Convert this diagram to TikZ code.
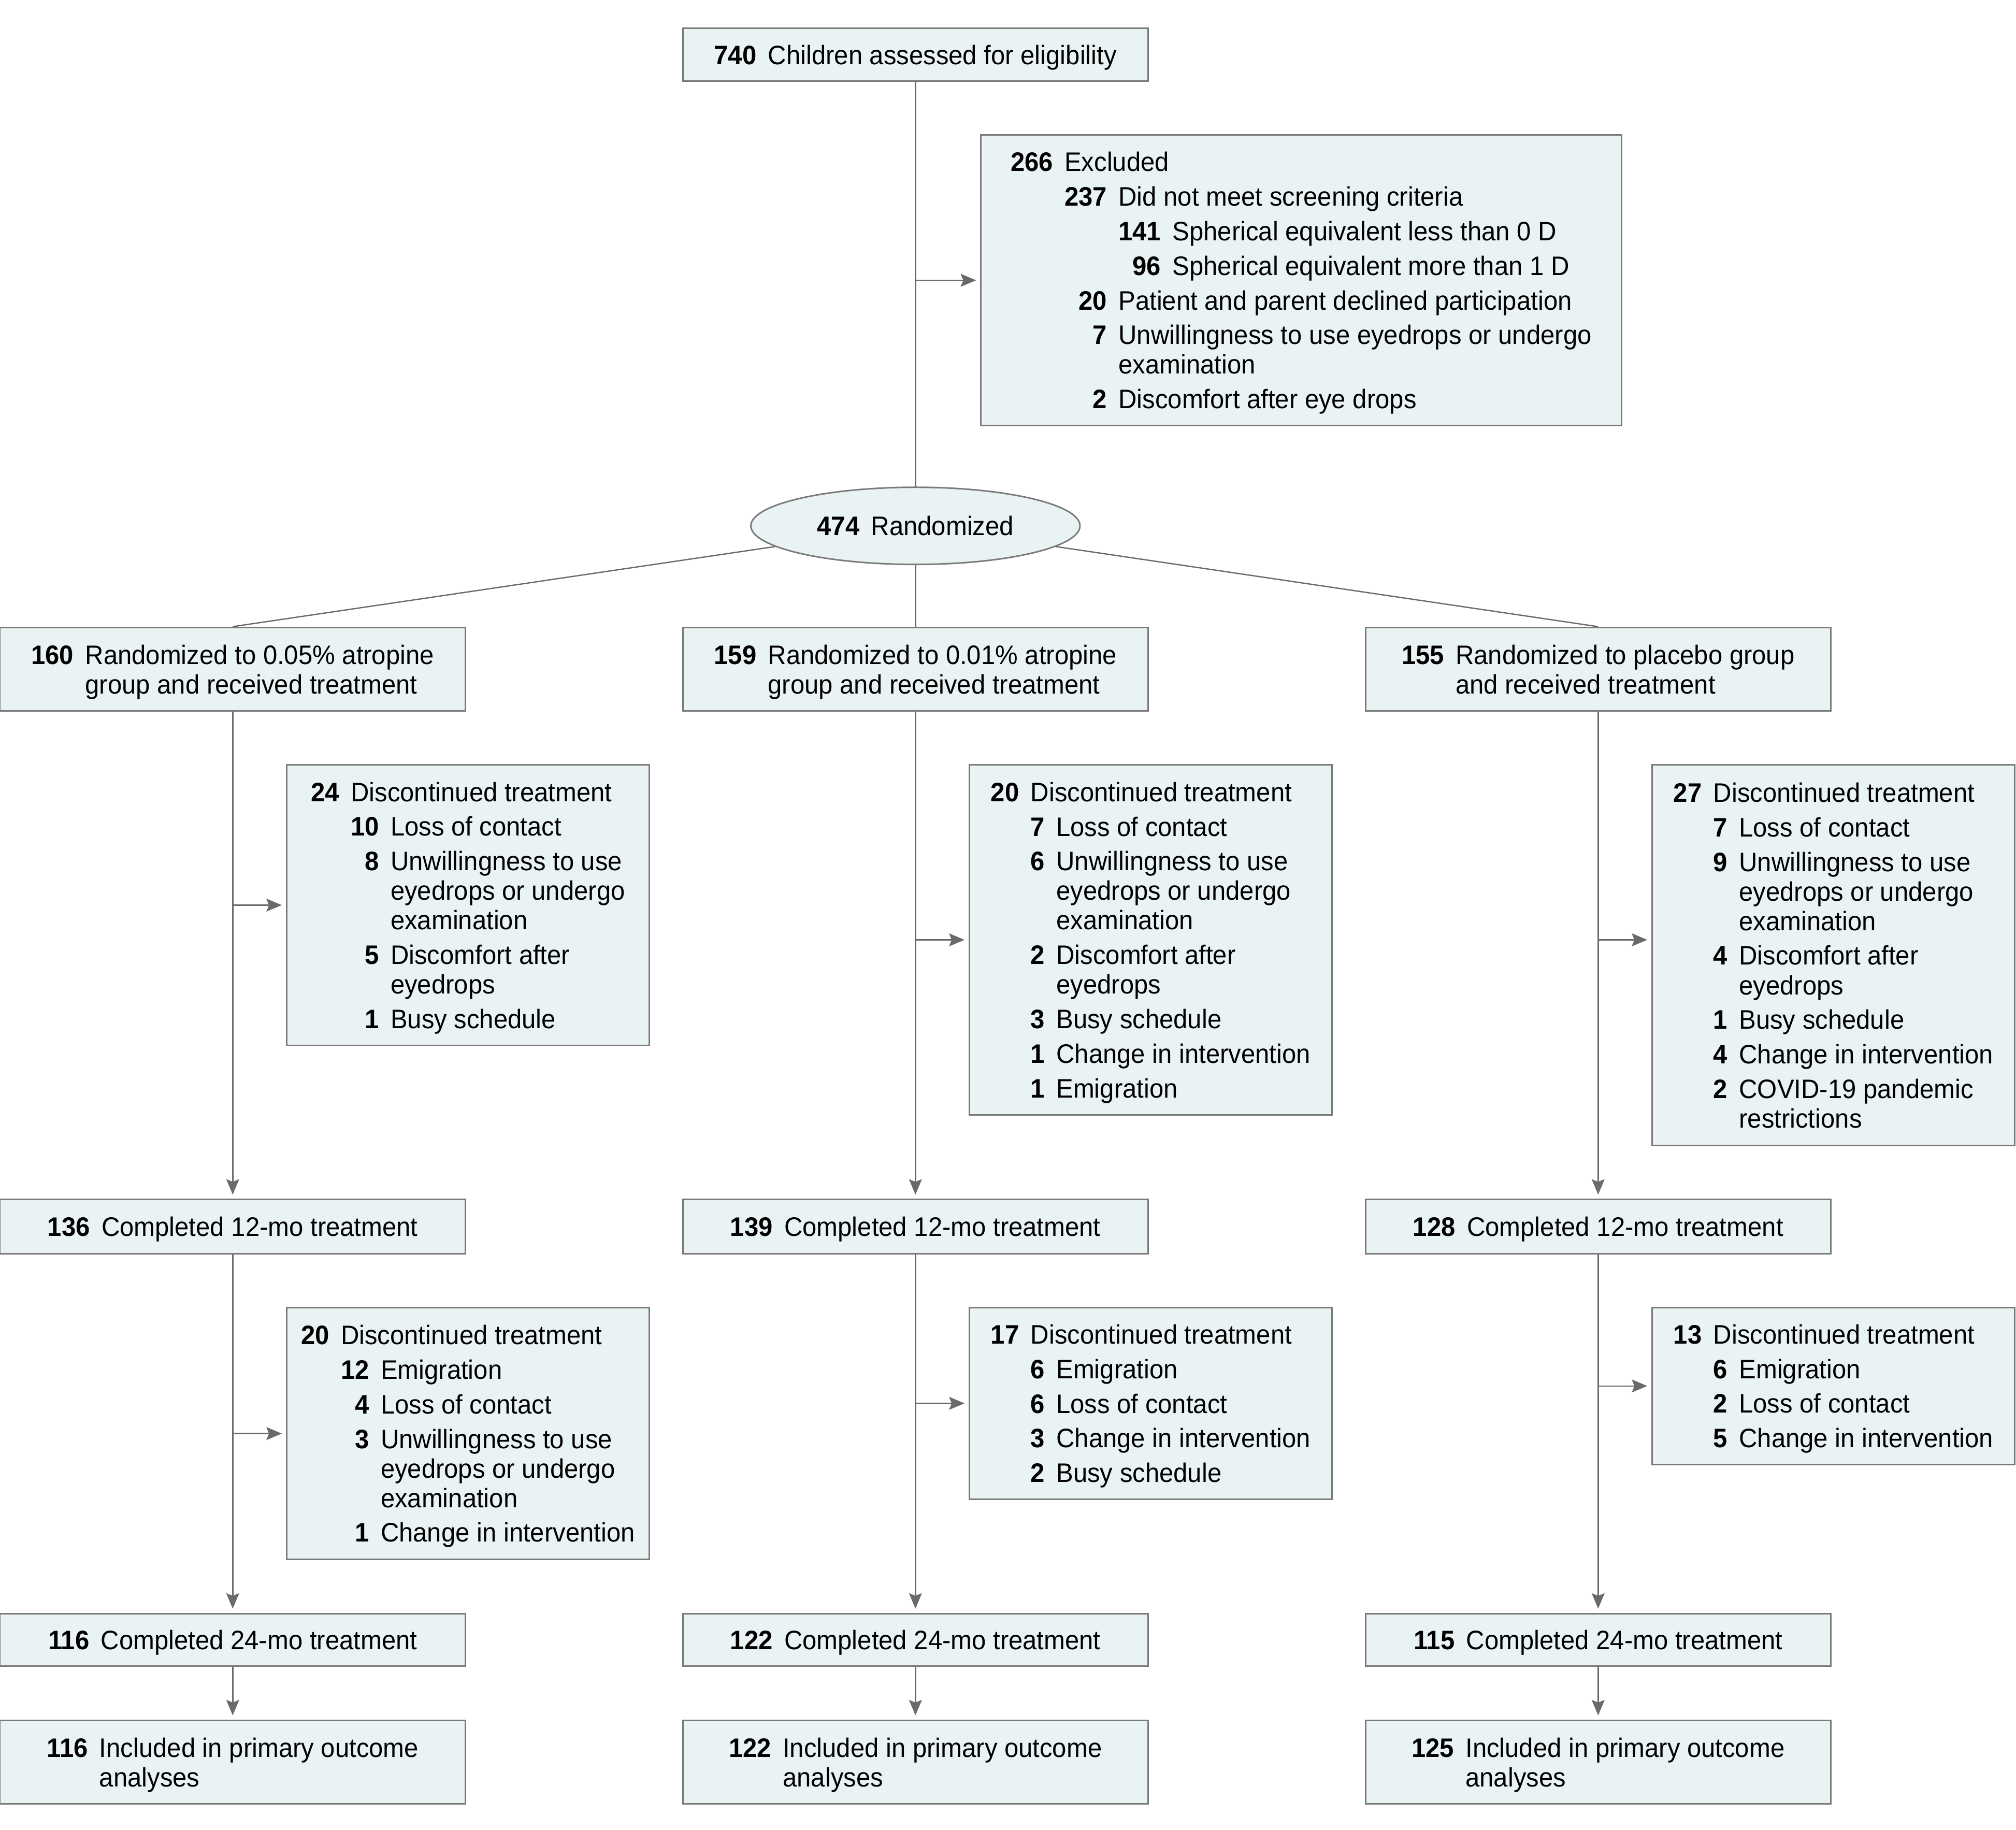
\documentclass[tikz,border=0pt]{standalone}
\usepackage{fontspec}
\setmainfont{Liberation Sans}[FakeStretch=0.95]
\usetikzlibrary{shapes.geometric,arrows.meta}
\definecolor{boxfill}{HTML}{E9F3F4}
\definecolor{boxline}{HTML}{7A7A7A}
\definecolor{linegray}{HTML}{6A6A6A}
\newcommand{\lst}[1]{\begin{tabular}[t]{@{}r@{\hspace{4.5pt}}l@{}}#1\end{tabular}}
\newcommand{\nbr}[1]{\rule{0pt}{10pt}\textbf{#1}}
\newcommand{\fst}[1]{\rule{0pt}{11pt}\textbf{#1}}
\begin{document}
\begin{tikzpicture}[x=0.5pt, y=-0.5pt,
  box/.style={draw=boxline, fill=boxfill, line width=0.6pt, inner sep=0pt, align=left,
    font=\fontsize{10.4}{11.5}\selectfont},
  wide/.style={box, minimum width=181pt, minimum height=#1},
  side/.style={box, minimum width=141pt, minimum height=#1},
  link/.style={draw=linegray, line width=0.5pt},
  arr/.style={link, -{Stealth[length=6pt,width=5pt,inset=1pt]}, shorten >=1.6pt}]
  \useasboundingbox (0,0) rectangle (1568,1423);

  \node[wide=20.5pt] (start) at (712,42.5) {\lst{\fst{740} & Children assessed for eligibility}};
  \node[box, minimum width=249pt, minimum height=113pt] (excl) at (1012,218) {\lst{\fst{266} & Excluded\\
    & \lst{\nbr{237} & Did not meet screening criteria\\
      & \lst{\nbr{141} & Spherical equivalent less than 0 D\\
        \nbr{96} & Spherical equivalent more than 1 D}\\
      \nbr{20} & Patient and parent declined participation\\
      \nbr{7} & Unwillingness to use eyedrops or undergo\\
      & examination\\
      \nbr{2} & Discomfort after eye drops}}};
  \node[box, ellipse, minimum width=128pt, minimum height=30pt] (rand) at (712,409) {\textbf{474}\hspace{4.5pt}Randomized};

  \node[wide=32.5pt] (g1) at (181,520.5) {\lst{\fst{160} & Randomized to 0.05\% atropine\\ & group and received treatment}};
  \node[wide=32.5pt] (g2) at (712,520.5) {\lst{\fst{159} & Randomized to 0.01\% atropine\\ & group and received treatment}};
  \node[wide=32.5pt] (g3) at (1243,520.5) {\lst{\fst{155} & Randomized to placebo group\\ & and received treatment}};

  \node[side=109pt] (d1a) at (364,704) {\lst{\fst{24} & Discontinued treatment\\
    & \lst{\nbr{10} & Loss of contact\\
      \nbr{8} & Unwillingness to use\\ & eyedrops or undergo\\ & examination\\
      \nbr{5} & Discomfort after\\ & eyedrops\\
      \nbr{1} & Busy schedule}}};
  \node[side=136pt] (d2a) at (895,731) {\lst{\fst{20} & Discontinued treatment\\
    & \lst{\nbr{7} & Loss of contact\\
      \nbr{6} & Unwillingness to use\\ & eyedrops or undergo\\ & examination\\
      \nbr{2} & Discomfort after\\ & eyedrops\\
      \nbr{3} & Busy schedule\\
      \nbr{1} & Change in intervention\\
      \nbr{1} & Emigration}}};
  \node[side=148pt] (d3a) at (1426,743) {\lst{\fst{27} & Discontinued treatment\\
    & \lst{\nbr{7} & Loss of contact\\
      \nbr{9} & Unwillingness to use\\ & eyedrops or undergo\\ & examination\\
      \nbr{4} & Discomfort after\\ & eyedrops\\
      \nbr{1} & Busy schedule\\
      \nbr{4} & Change in intervention\\
      \nbr{2} & COVID-19 pandemic\\ & restrictions}}};

  \node[wide=21pt] (c1) at (181,954) {\lst{\fst{136} & Completed 12-mo treatment}};
  \node[wide=21pt] (c2) at (712,954) {\lst{\fst{139} & Completed 12-mo treatment}};
  \node[wide=21pt] (c3) at (1243,954) {\lst{\fst{128} & Completed 12-mo treatment}};

  \node[side=98pt] (d1b) at (364,1115) {\lst{\fst{20} & Discontinued treatment\\
    & \lst{\nbr{12} & Emigration\\
      \nbr{4} & Loss of contact\\
      \nbr{3} & Unwillingness to use\\ & eyedrops or undergo\\ & examination\\
      \nbr{1} & Change in intervention}}};
  \node[side=74.5pt] (d2b) at (895,1091.5) {\lst{\fst{17} & Discontinued treatment\\
    & \lst{\nbr{6} & Emigration\\
      \nbr{6} & Loss of contact\\
      \nbr{3} & Change in intervention\\
      \nbr{2} & Busy schedule}}};
  \node[side=61pt] (d3b) at (1426,1078) {\lst{\fst{13} & Discontinued treatment\\
    & \lst{\nbr{6} & Emigration\\
      \nbr{2} & Loss of contact\\
      \nbr{5} & Change in intervention}}};

  \node[wide=20.5pt] (f1) at (181,1275.5) {\lst{\fst{116} & Completed 24-mo treatment}};
  \node[wide=20.5pt] (f2) at (712,1275.5) {\lst{\fst{122} & Completed 24-mo treatment}};
  \node[wide=20.5pt] (f3) at (1243,1275.5) {\lst{\fst{115} & Completed 24-mo treatment}};

  \node[wide=32.5pt] (i1) at (181,1370.5) {\lst{\fst{116} & Included in primary outcome\\ & analyses}};
  \node[wide=32.5pt] (i2) at (712,1370.5) {\lst{\fst{122} & Included in primary outcome\\ & analyses}};
  \node[wide=32.5pt] (i3) at (1243,1370.5) {\lst{\fst{125} & Included in primary outcome\\ & analyses}};

  \draw[link] (start.south) -- (rand.north);
  \draw[arr] (start.south |- excl.west) -- (excl.west);
  \draw[link] (rand) -- (g1.north);
  \draw[link] (rand.south) -- (g2.north);
  \draw[link] (rand) -- (g3.north);

  \draw[arr] (g1.south) -- (c1.north);
  \draw[arr] (g2.south) -- (c2.north);
  \draw[arr] (g3.south) -- (c3.north);
  \draw[arr] (g1.south |- d1a.west) -- (d1a.west);
  \draw[arr] (g2.south |- d2a.west) -- (d2a.west);
  \draw[arr] (g3.south |- d2a.west) -- (d3a.west |- d2a.west);

  \draw[arr] (c1.south) -- (f1.north);
  \draw[arr] (c2.south) -- (f2.north);
  \draw[arr] (c3.south) -- (f3.north);
  \draw[arr] (c1.south |- d1b.west) -- (d1b.west);
  \draw[arr] (c2.south |- d2b.west) -- (d2b.west);
  \draw[arr] (c3.south |- d3b.west) -- (d3b.west);

  \draw[arr] (f1) -- (i1);
  \draw[arr] (f2) -- (i2);
  \draw[arr] (f3) -- (i3);
\end{tikzpicture}
\end{document}
